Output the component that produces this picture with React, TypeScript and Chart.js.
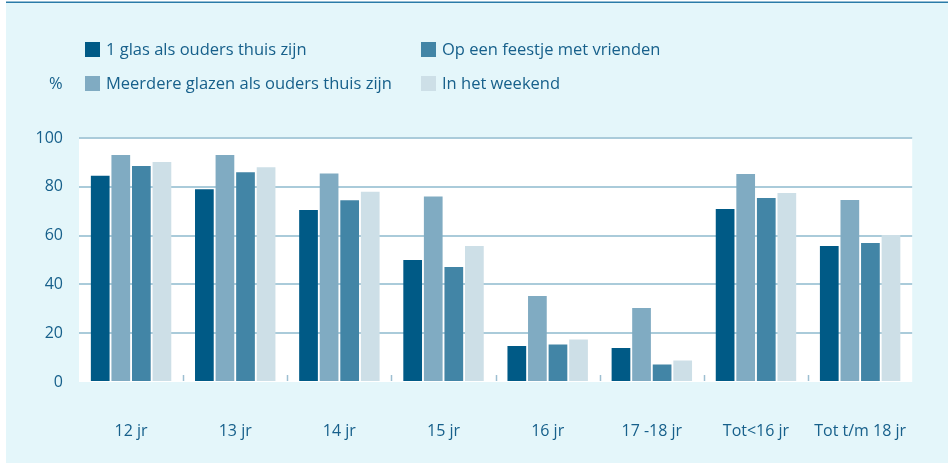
import React, { useEffect, useRef } from "react";
import { Chart, registerables } from "chart.js";

Chart.register(...registerables);

const categories = ["12 jr", "13 jr", "14 jr", "15 jr", "16 jr", "17 -18 jr", "Tot<16 jr", "Tot t/m 18 jr"];
const seriesNames = [
  "1 glas als ouders thuis zijn",
  "Meerdere glazen als ouders thuis zijn",
  "Op een feestje met vrienden",
  "In het weekend",
];
const eenGlas = [84.5, 79, 70.5, 50, 14.8, 13.9, 70.9, 55.7];
const meerdereGlazen = [93, 93, 85.5, 76, 35.2, 30.3, 85.2, 74.6];
const feestje = [88.5, 86, 74.5, 47.1, 15.4, 7.2, 75.4, 57];
const weekend = [90.2, 88, 78, 55.7, 17.4, 8.8, 77.5, 60.2];
const yTicks = [0, 20, 40, 60, 80, 100];
const colors = ["#005a86", "#80abc2", "#4285a6", "#cddfe7"];

const TEXT = "#17608b";
const FONT = "'Open Sans', 'Noto Sans', sans-serif";

const framePlugin = {
  id: "frame",
  beforeDraw(chart: any) {
    const { ctx, chartArea } = chart;
    ctx.save();
    ctx.fillStyle = "#e4f6fa";
    ctx.fillRect(6, 3, chart.width - 6, chart.height - 4);
    ctx.fillStyle = "#2a7ba8";
    ctx.fillRect(6, 1.5, chart.width - 6, 1.5);
    ctx.fillStyle = "#ffffff";
    ctx.fillRect(chartArea.left, chartArea.top, chartArea.right - chartArea.left, chartArea.bottom - chartArea.top);
    // legend
    const pos = [
      [85, 42],
      [85, 76],
      [421, 42],
      [421, 76],
    ];
    ctx.font = `16.5px ${FONT}`;
    ctx.textBaseline = "middle";
    ctx.textAlign = "left";
    chart.data.datasets.forEach((ds: any, i: number) => {
      const [x, y] = pos[i];
      ctx.fillStyle = ds.backgroundColor;
      ctx.fillRect(x, y, 15, 15);
      ctx.fillStyle = TEXT;
      ctx.fillText(ds.label, x + 21, y + 8);
    });
    ctx.fillText("%", 49, 84);
    ctx.restore();
  },
  afterDatasetsDraw(chart: any) {
    const { ctx, chartArea, scales } = chart;
    const x = scales.x;
    ctx.save();
    ctx.strokeStyle = "#9dbfd1";
    ctx.lineWidth = 1.5;
    const n = chart.data.labels.length;
    for (let i = 1; i < n; i++) {
      const px = Math.round((x.getPixelForTick(i - 1) + x.getPixelForTick(i)) / 2) + 0.5;
      ctx.beginPath();
      ctx.moveTo(px, chartArea.bottom - 7);
      ctx.lineTo(px, chartArea.bottom - 1);
      ctx.stroke();
    }
    ctx.restore();
  },
};

export default function App() {
  const ref = useRef<HTMLCanvasElement | null>(null);
  useEffect(() => {
    if (!ref.current) return;
    const seriesData = [eenGlas, meerdereGlazen, feestje, weekend];
    const chart = new Chart(ref.current, {
      type: "bar",
      data: {
        labels: categories,
        datasets: seriesNames.map((name, i) => ({
          label: name,
          data: seriesData[i],
          backgroundColor: colors[i],
          borderWidth: 0,
          categoryPercentage: 0.79,
          barPercentage: 0.91,
        })),
      },
      options: {
        animation: false,
        responsive: false,
        maintainAspectRatio: false,
        devicePixelRatio: 1,
        layout: { padding: { left: 0, right: 31, top: 138, bottom: 0 } },
        plugins: { legend: { display: false }, tooltip: { enabled: false } },
        scales: {
          x: {
            grid: { display: false, drawTicks: false },
            border: { display: false },
            ticks: { color: TEXT, font: { family: FONT, size: 16 }, padding: 40, maxRotation: 0 },
            afterFit(scale: any) {
              scale.height = 82;
            },
          },
          y: {
            min: 0,
            max: 100,
            afterBuildTicks(scale: any) {
              scale.ticks = yTicks.map((v) => ({ value: v }));
            },
            grid: {
              drawTicks: false,
              lineWidth: 2,
              color: (c: any) => (c.tick && c.tick.value === 0 ? "rgba(0,0,0,0)" : "#aacbda"),
            },
            border: { display: false },
            ticks: { color: TEXT, font: { family: FONT, size: 16 }, padding: 16 },
            afterFit(scale: any) {
              scale.width = 79;
            },
          },
        },
      },
      plugins: [framePlugin],
    });
    return () => chart.destroy();
  }, []);
  return (
    <div style={{ position: "absolute", left: 0, top: 0, width: 948, height: 464 }}>
      <canvas ref={ref} width={948} height={464} style={{ width: 948, height: 464, display: "block" }} />
    </div>
  );
}
